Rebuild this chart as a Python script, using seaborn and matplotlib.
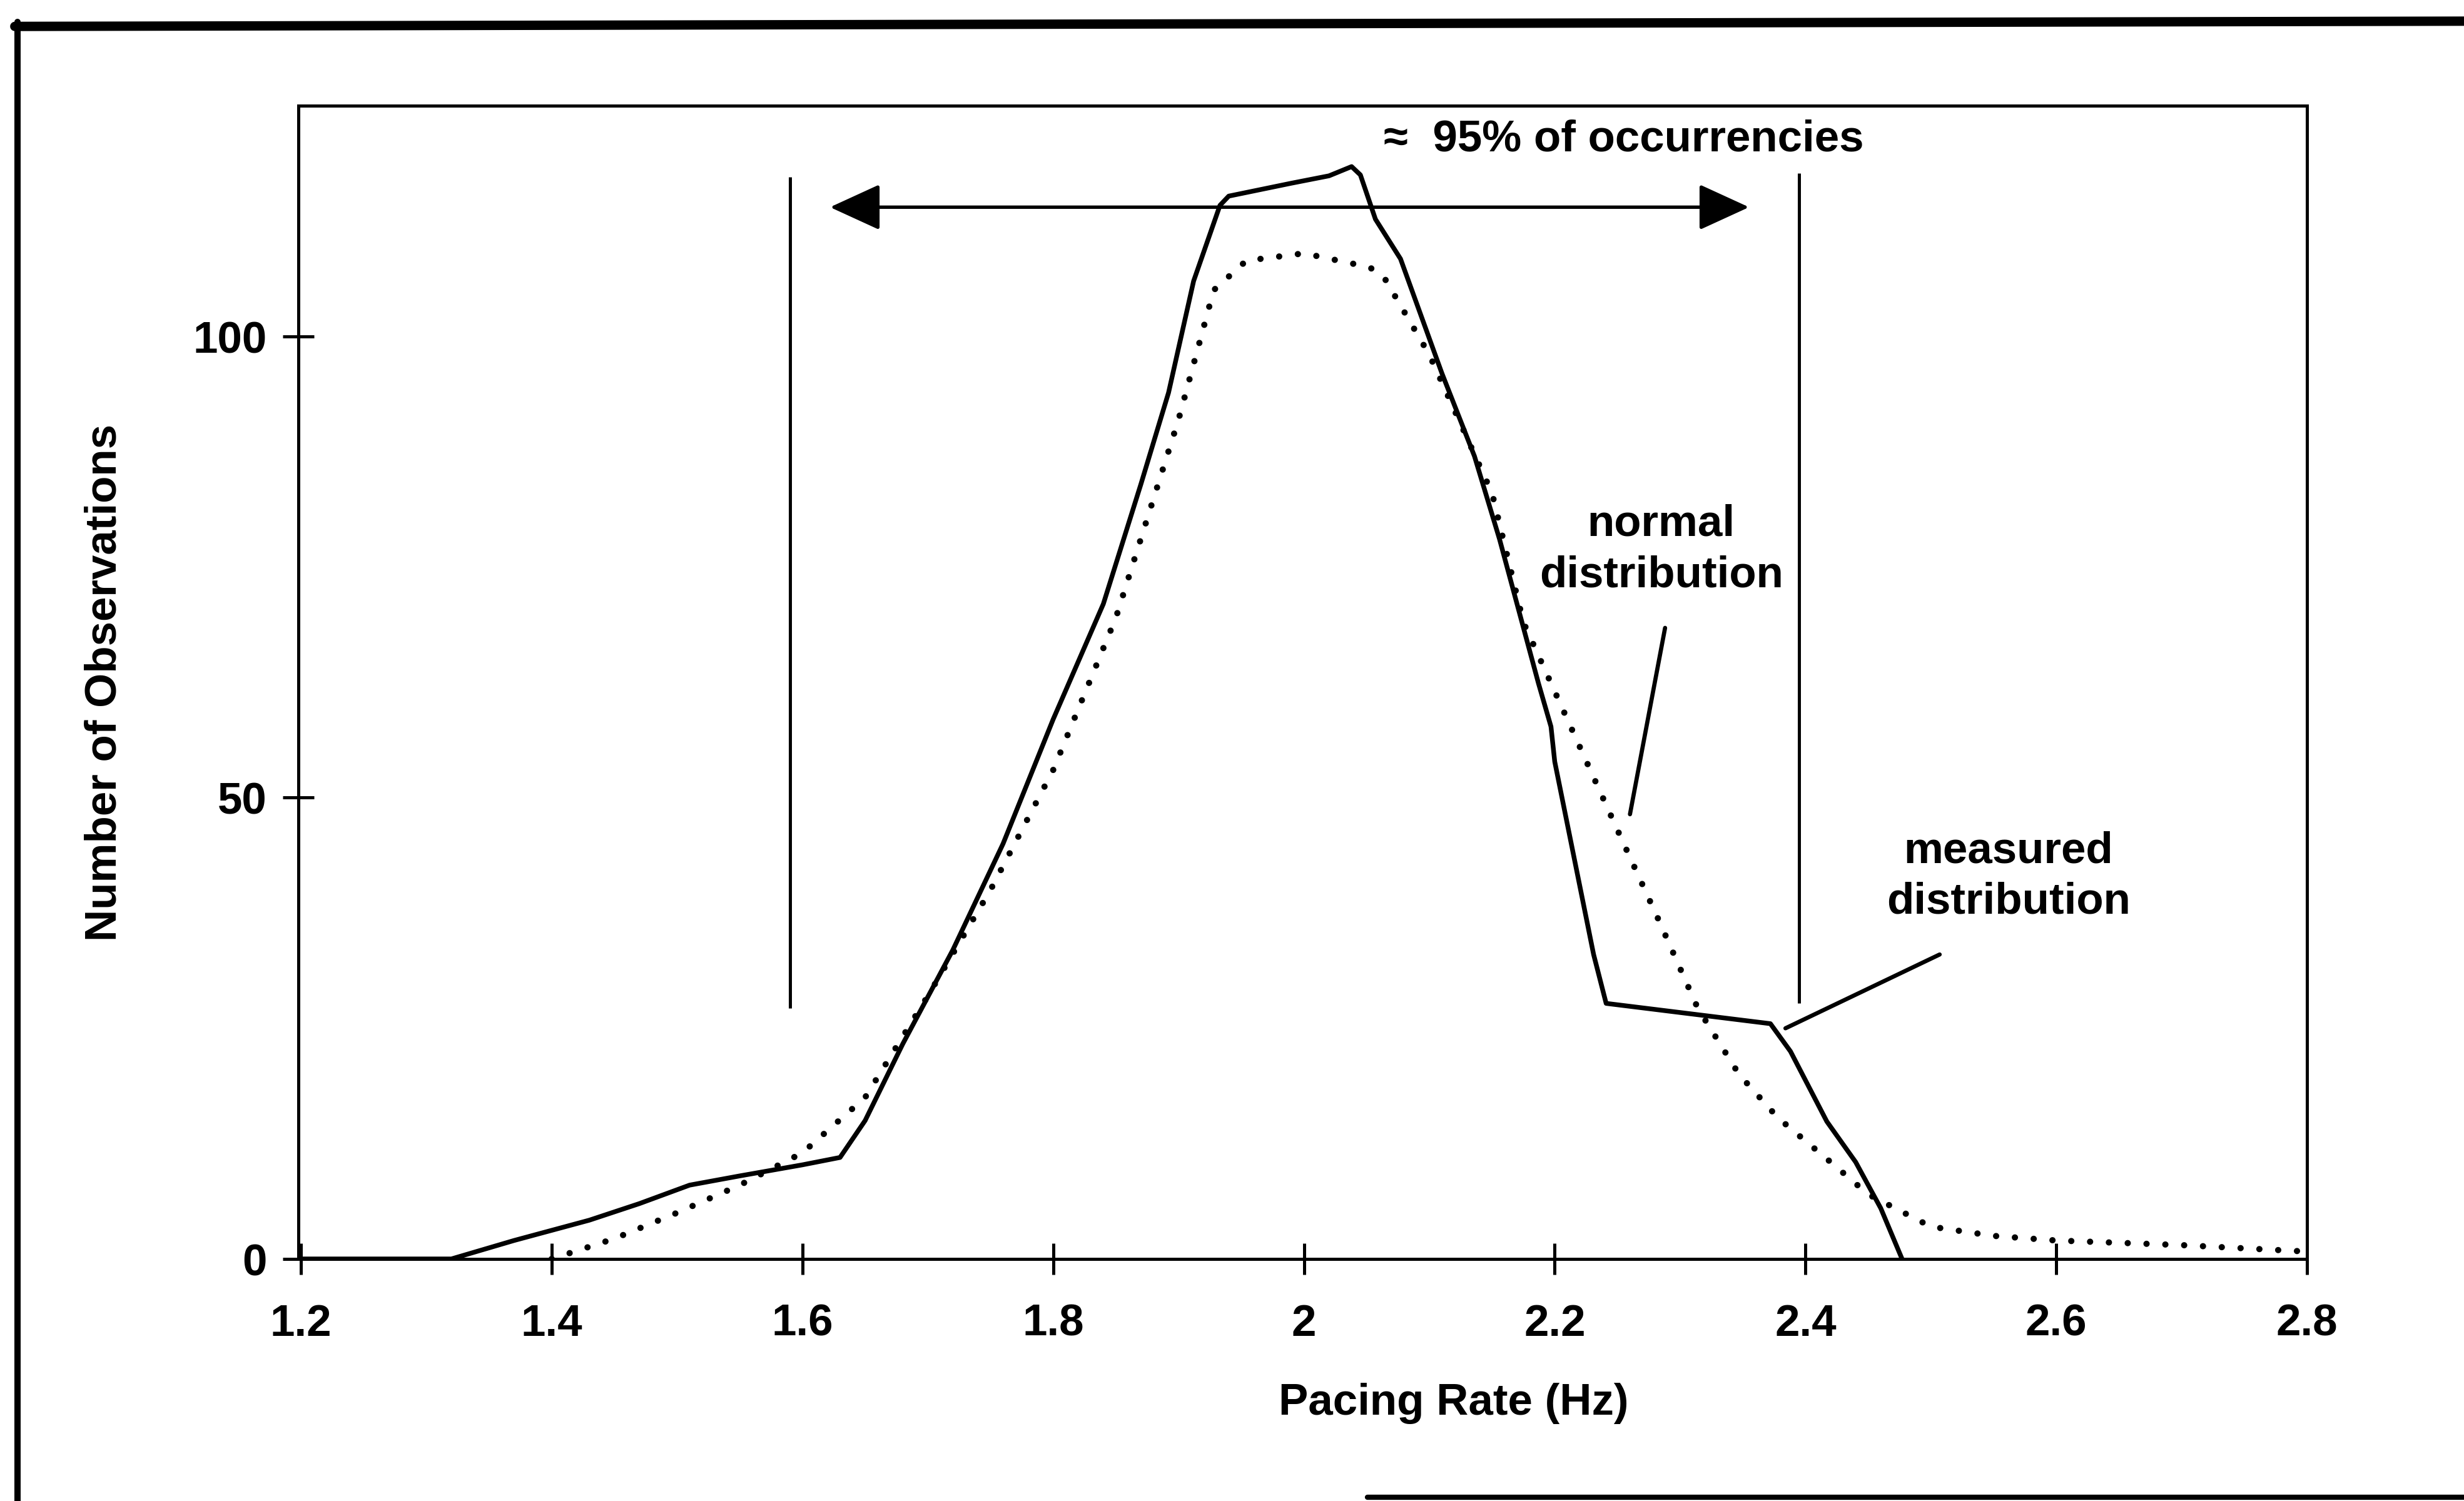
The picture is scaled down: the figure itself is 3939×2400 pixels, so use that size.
import matplotlib
matplotlib.use("Agg")
import pandas as pd
import matplotlib.pyplot as plt
from matplotlib.lines import Line2D
import seaborn as sns

# Measured distribution (solid line)
measured_rate = [1.20, 1.32, 1.37, 1.43, 1.47, 1.51, 1.55, 1.60, 1.63, 1.65,
                 1.68, 1.72, 1.76, 1.80, 1.84, 1.87, 1.892, 1.912, 1.933, 1.94,
                 1.99, 2.02, 2.038, 2.045, 2.057, 2.077, 2.11, 2.136, 2.156, 2.187,
                 2.197, 2.20, 2.231, 2.241, 2.372, 2.388, 2.417, 2.44, 2.46, 2.477]
measured_count = [0, 0, 2, 4.2, 6, 8, 9, 10.2, 11, 15,
                  23.3, 33.5, 45, 58.5, 71, 84, 93.9, 106, 114.2, 115.2,
                  116.6, 117.4, 118.4, 117.5, 112.7, 108.4, 96, 87, 78, 62.4,
                  57.7, 53.9, 33, 27.7, 25.5, 22.5, 14.9, 10.5, 5.5, 0]

# Normal distribution (dotted line)
normal_rate = [1.40, 1.45, 1.50, 1.55, 1.60, 1.65, 1.70, 1.75, 1.80, 1.85,
               1.90, 1.928, 1.954, 2.00, 2.052, 2.063, 2.10, 2.15, 2.175, 2.219,
               2.251, 2.283, 2.314, 2.347, 2.378, 2.42, 2.45, 2.50, 2.55, 2.60,
               2.70, 2.80]
normal_count = [0, 2.2, 5.0, 8.0, 11.5, 17.5, 28.5, 40, 53, 69.5,
                91, 105, 108.2, 109, 107.5, 106.6, 98, 83, 69, 55.8,
                46.2, 36.7, 27.2, 20, 15.3, 10.5, 7, 3.5, 2.5, 2.0,
                1.5, 0.8]

x_ticks = [1.2, 1.4, 1.6, 1.8, 2.0, 2.2, 2.4, 2.6, 2.8]
x_tick_labels = ["1.2", "1.4", "1.6", "1.8", "2", "2.2", "2.4", "2.6", "2.8"]
y_ticks = [0, 50, 100]

# 95% band limits
band_left = 1.59
band_right = 2.395
band_bottom = [27.2, 27.7]
band_top = [117.3, 117.7]

measured = pd.DataFrame({"rate": measured_rate, "count": measured_count})
normal = pd.DataFrame({"rate": normal_rate, "count": normal_count})

sns.set_style("ticks")
plt.rcParams["font.family"] = ["Liberation Sans", "DejaVu Sans"]
plt.rcParams["font.weight"] = "bold"
plt.rcParams["axes.linewidth"] = 1.2
plt.rcParams["text.color"] = "black"
plt.rcParams["axes.labelcolor"] = "black"
plt.rcParams["xtick.color"] = "black"
plt.rcParams["ytick.color"] = "black"
plt.rcParams["axes.edgecolor"] = "black"

fig = plt.figure(figsize=(13.13, 8.0033), dpi=300)
fig.patch.set_facecolor("white")
ax = fig.add_axes([0.1211, 0.1612, 0.8152, 0.768])

sns.lineplot(data=measured, x="rate", y="count", ax=ax, color="black",
             lw=1.8, sort=False)
sns.lineplot(data=normal, x="rate", y="count", ax=ax, color="black",
             lw=2.4, sort=False, linestyle=(0, (0.01, 3)),
             dash_capstyle="round")

ax.set_xlim(1.198, 2.8)
ax.set_ylim(0, 125)
ax.set_xticks(x_ticks)
ax.set_xticklabels(x_tick_labels)
ax.set_yticks(y_ticks)
ax.tick_params(axis="both", direction="inout", length=12, width=1.2,
               labelsize=17, color="black", labelcolor="black")
ax.tick_params(axis="x", pad=11)
ax.tick_params(axis="y", pad=6)
for lab in ax.get_xticklabels() + ax.get_yticklabels():
    lab.set_fontweight("bold")
for sp in ax.spines.values():
    sp.set_color("black")
    sp.set_linewidth(1.2)

ax.set_xlabel("Pacing Rate (Hz)", fontsize=17, fontweight="bold", color="black")
ax.set_ylabel("Number of Observations", fontsize=17, fontweight="bold", color="black")
ax.xaxis.set_label_coords(0.575, -0.107)
ax.yaxis.set_label_coords(-0.086, 0.5)

# 95% band markers
ax.vlines([band_left, band_right], band_bottom, band_top, color="black", lw=1.2)
ax.annotate("", xy=(1.622, 114), xytext=(2.355, 114),
            arrowprops=dict(arrowstyle="<|-|>,head_length=1.2,head_width=0.55",
                            mutation_scale=14, lw=1.3, color="black",
                            shrinkA=0, shrinkB=0))
ax.text(2.255, 121.4, "\u2248  95% of occurrencies", ha="center", va="center",
        fontsize=17, fontweight="bold", color="black")

# curve labels with leader lines
ax.text(2.285, 76.9, "normal\ndistribution", ha="center", va="center",
        fontsize=17, fontweight="bold", linespacing=1.3, color="black")
ax.plot([2.288, 2.26], [68.4, 48.2], color="black", lw=1.6)
ax.text(2.562, 41.5, "measured\ndistribution", ha="center", va="center",
        fontsize=17, fontweight="bold", linespacing=1.3, color="black")
ax.plot([2.507, 2.384], [33, 25], color="black", lw=1.6)

# scanned page frame
fig.add_artist(Line2D([0.006, 1.0], [0.982, 0.9855], transform=fig.transFigure,
                      color="black", lw=3.6))
fig.add_artist(Line2D([0.007, 0.007], [0.985, 0.0], transform=fig.transFigure,
                      color="black", lw=2.4))
fig.add_artist(Line2D([0.555, 1.0], [0.0025, 0.0025], transform=fig.transFigure,
                      color="black", lw=2.0))

fig.savefig("out.png", dpi=300, facecolor="white")
